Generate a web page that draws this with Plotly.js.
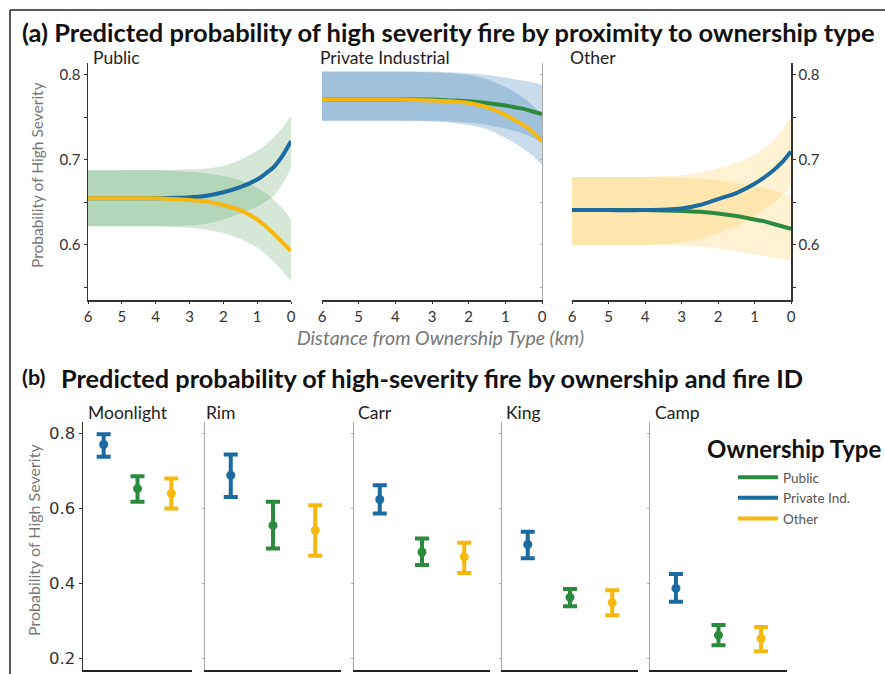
<!DOCTYPE html>
<html>
<head>
<meta charset="utf-8">
<script src="https://cdn.plot.ly/plotly-3.0.1.min.js"></script>
<style>html,body{margin:0;padding:0;background:#fff;}#chart{width:885px;height:674px;}</style>
</head>
<body>
<div id="chart"></div>
<script>
// ---------- Panel (a) data: distance from ownership type (km) ----------
const dist = [6, 5, 4, 3, 2.5, 2, 1.5, 1, 0.75, 0.5, 0.25, 0];

// Public panel
const pubPanelPriv   = [0.655,0.655,0.655,0.656,0.658,0.662,0.668,0.677,0.684,0.692,0.705,0.722];
const pubPanelPrivHi = [0.688,0.688,0.688,0.689,0.690,0.693,0.700,0.711,0.718,0.727,0.738,0.752];
const pubPanelPrivLo = [0.622,0.622,0.622,0.623,0.625,0.630,0.637,0.645,0.651,0.658,0.672,0.690];
const pubPanelOth    = [0.655,0.655,0.655,0.653,0.651,0.647,0.641,0.630,0.622,0.613,0.603,0.593];
const pubPanelOthHi  = [0.688,0.688,0.688,0.686,0.684,0.681,0.676,0.667,0.661,0.653,0.643,0.630];
const pubPanelOthLo  = [0.622,0.622,0.622,0.620,0.618,0.614,0.607,0.597,0.589,0.580,0.569,0.557];

// Private Industrial panel
const privPanelPub   = [0.771,0.771,0.771,0.771,0.770,0.769,0.767,0.764,0.762,0.760,0.757,0.754];
const privPanelPubHi = [0.804,0.804,0.804,0.804,0.803,0.802,0.800,0.797,0.795,0.793,0.791,0.788];
const privPanelPubLo = [0.746,0.746,0.746,0.746,0.745,0.744,0.741,0.737,0.734,0.731,0.726,0.720];
const privPanelOth   = [0.771,0.771,0.771,0.770,0.769,0.767,0.762,0.753,0.747,0.741,0.733,0.722];
const privPanelOthHi = [0.804,0.804,0.804,0.803,0.802,0.800,0.795,0.786,0.780,0.773,0.764,0.752];
const privPanelOthLo = [0.746,0.746,0.746,0.745,0.744,0.741,0.736,0.726,0.720,0.713,0.705,0.694];

// Other panel
const othPanelPriv   = [0.641,0.641,0.641,0.643,0.647,0.654,0.661,0.672,0.679,0.687,0.697,0.710];
const othPanelPrivHi = [0.680,0.680,0.680,0.682,0.685,0.690,0.696,0.706,0.713,0.722,0.734,0.751];
const othPanelPrivLo = [0.600,0.600,0.600,0.603,0.607,0.614,0.622,0.634,0.641,0.649,0.658,0.668];
const othPanelPub    = [0.641,0.641,0.641,0.640,0.639,0.637,0.634,0.630,0.628,0.625,0.622,0.619];
const othPanelPubHi  = [0.680,0.680,0.680,0.679,0.678,0.676,0.673,0.669,0.667,0.664,0.661,0.658];
const othPanelPubLo  = [0.600,0.600,0.600,0.599,0.598,0.596,0.593,0.589,0.587,0.585,0.583,0.582];

// ---------- Panel (b) data ----------
const fires  = ['Moonlight', 'Rim', 'Carr', 'King', 'Camp'];
const owners = ['Private Ind.', 'Public', 'Other'];
const privMean = [0.771, 0.689, 0.624, 0.504, 0.387];
const privLo   = [0.738, 0.631, 0.587, 0.467, 0.351];
const privHi   = [0.798, 0.744, 0.662, 0.538, 0.425];
const pubMean  = [0.653, 0.555, 0.484, 0.363, 0.262];
const pubLo    = [0.618, 0.493, 0.449, 0.339, 0.235];
const pubHi    = [0.686, 0.618, 0.520, 0.385, 0.289];
const othMean  = [0.640, 0.542, 0.471, 0.349, 0.253];
const othLo    = [0.600, 0.474, 0.428, 0.315, 0.219];
const othHi    = [0.680, 0.609, 0.509, 0.382, 0.284];

const yTicksA = [0.55, 0.6, 0.65, 0.7, 0.75, 0.8];
const yTextA  = ['', '0.6', '', '0.7', '', '0.8'];
const yTicksB = [0.2, 0.4, 0.6, 0.8];
const yTextB  = ['0.2', '0.4', '0.6', '0.8'];
const xTicksA = [6, 5, 4, 3, 2, 1, 0];

// ---------- styling ----------
const GREEN = '#2b8a3e', BLUE = '#1b6aa0', YELLOW = '#f6b80f';
const GREEN_F = 'rgba(46,139,58,0.20)', BLUE_F = 'rgba(30,110,170,0.24)', YELLOW_F = 'rgba(250,190,30,0.20)';
const W = 885, H = 674;
const px = v => v / W, py = v => 1 - v / H;

const traces = [];
function band(xa, ya, lo, hi, fill) {
  traces.push({x: dist, y: lo, xaxis: xa, yaxis: ya, mode: 'lines', line: {width: 0, shape: 'spline', smoothing: 0.6},
    showlegend: false, hoverinfo: 'skip'});
  traces.push({x: dist, y: hi, xaxis: xa, yaxis: ya, mode: 'lines', line: {width: 0, shape: 'spline', smoothing: 0.6},
    fill: 'tonexty', fillcolor: fill, showlegend: false, hoverinfo: 'skip'});
}
function line(xa, ya, y, color, name, show, rank) {
  traces.push({x: dist, y: y, xaxis: xa, yaxis: ya, mode: 'lines', name: name, legendgroup: name, legendrank: rank,
    showlegend: show, line: {color: color, width: 4, shape: 'spline', smoothing: 0.6}});
}
// Public panel
band('x', 'y', pubPanelPrivLo, pubPanelPrivHi, GREEN_F);
band('x', 'y', pubPanelOthLo, pubPanelOthHi, GREEN_F);
line('x', 'y', pubPanelPriv, BLUE, 'Private Ind.', true, 2);
line('x', 'y', pubPanelOth, YELLOW, 'Other', true, 3);
// Private panel
band('x2', 'y2', privPanelPubLo, privPanelPubHi, BLUE_F);
band('x2', 'y2', privPanelOthLo, privPanelOthHi, BLUE_F);
line('x2', 'y2', privPanelPub, GREEN, 'Public', true, 1);
line('x2', 'y2', privPanelOth, YELLOW, 'Other', false, 3);
// Other panel
band('x3', 'y3', othPanelPrivLo, othPanelPrivHi, YELLOW_F);
band('x3', 'y3', othPanelPubLo, othPanelPubHi, YELLOW_F);
line('x3', 'y3', othPanelPub, GREEN, 'Public', false, 1);
line('x3', 'y3', othPanelPriv, BLUE, 'Private Ind.', false, 2);

// Panel (b) error bars
const series = [
  {name: owners[0], mean: privMean, lo: privLo, hi: privHi, color: BLUE},
  {name: owners[1], mean: pubMean, lo: pubLo, hi: pubHi, color: GREEN},
  {name: owners[2], mean: othMean, lo: othLo, hi: othHi, color: YELLOW}
];
fires.forEach((f, i) => {
  series.forEach(s => {
    traces.push({
      x: [s.name], y: [s.mean[i]], xaxis: 'x' + (4 + i), yaxis: 'y' + (5 + i),
      mode: 'markers', type: 'scatter', showlegend: false, name: s.name,
      marker: {color: s.color, size: 9},
      error_y: {type: 'data', symmetric: false, array: [s.hi[i] - s.mean[i]], arrayminus: [s.mean[i] - s.lo[i]],
        color: s.color, thickness: 4, width: 7}
    });
  });
});

const FONT = 'Lato, "Open Sans", sans-serif';
const tickFontA = {family: FONT, size: 15, color: '#333'};
const layout = {
  width: W, height: H, margin: {l: 0, r: 0, t: 0, b: 0},
  paper_bgcolor: '#fff', plot_bgcolor: 'rgba(0,0,0,0)',
  font: {family: FONT, color: '#333'},
  showlegend: true,
  legend: {x: px(733), y: py(462), xanchor: 'left', yanchor: 'top', bgcolor: 'rgba(0,0,0,0)',
    font: {family: FONT, size: 13.5, color: '#555'}, itemwidth: 40, tracegroupgap: 0, traceorder: 'normal'},
  annotations: [],
  shapes: [
    {type: 'line', xref: 'paper', yref: 'paper', x0: px(10), x1: 1.01, y0: py(10), y1: py(10), line: {color: '#222', width: 1.5}},
    {type: 'line', xref: 'paper', yref: 'paper', x0: px(10), x1: px(10), y0: py(10), y1: -0.01, line: {color: '#222', width: 1.5}}
  ]
};

const rangeA = [0.5353, 0.814];
const xDomA = [[88, 291], [322, 542], [572, 791]];
const yDomA = [py(300), py(63)];
xDomA.forEach((d, i) => {
  layout['xaxis' + (i === 0 ? '' : i + 1)] = {
    domain: [px(d[0]), px(d[1])], range: [6, 0], anchor: i === 0 ? 'y' : 'y' + (i + 1),
    showline: true, linecolor: '#333', linewidth: 1.5, ticks: 'outside', ticklen: 2, tickcolor: '#333', tickwidth: 1,
    tickvals: xTicksA, tickfont: tickFontA, showgrid: false, zeroline: false, fixedrange: true
  };
});
layout.yaxis = {domain: yDomA, range: rangeA, anchor: 'x', side: 'left', showline: true, linecolor: '#333', linewidth: 1.5,
  ticks: 'outside', ticklen: 3, tickcolor: '#333', tickvals: yTicksA, ticktext: yTextA, tickfont: tickFontA,
  showgrid: false, zeroline: false};
layout.yaxis2 = {domain: yDomA, range: rangeA, anchor: 'x2', side: 'right', showline: true, linecolor: '#aaa', linewidth: 1.2,
  ticks: 'inside', ticklen: 2, tickcolor: '#aaa', tickvals: yTicksA, showticklabels: false, showgrid: false, zeroline: false};
layout.yaxis3 = {domain: yDomA, range: rangeA, anchor: 'x3', side: 'right', showline: true, linecolor: '#333', linewidth: 1.5,
  ticks: 'outside', ticklen: 3, tickcolor: '#333', tickvals: yTicksA, ticktext: yTextA, tickfont: tickFontA,
  showgrid: false, zeroline: false};
layout.yaxis4 = {overlaying: 'y', range: rangeA, anchor: 'x', side: 'right', showline: true, linecolor: '#aaa', linewidth: 1.2,
  ticks: 'inside', ticklen: 2, tickcolor: '#aaa', tickvals: yTicksA, showticklabels: false, showgrid: false, zeroline: false};

const rangeB = [0.169, 0.831];
const xDomB = [[83, 192], [205, 341], [354, 490], [502, 638], [650, 787]];
const yDomB = [py(670), py(422)];
xDomB.forEach((d, i) => {
  layout['xaxis' + (4 + i)] = {
    domain: [px(d[0]), px(d[1])], type: 'category', categoryorder: 'array', categoryarray: owners,
    range: [-0.61, 2.61], anchor: 'y' + (5 + i), showline: true, linecolor: '#222', linewidth: 2,
    ticks: '', showticklabels: false, showgrid: false, zeroline: false
  };
  const first = i === 0;
  layout['yaxis' + (5 + i)] = {
    domain: yDomB, range: rangeB, anchor: 'x' + (4 + i), side: 'left', showline: true,
    linecolor: first ? '#333' : '#aaa', linewidth: 1.5,
    ticks: 'outside', ticklen: first ? 3 : 2, tickcolor: first ? '#333' : '#aaa',
    tickvals: yTicksB, ticktext: yTextB, showticklabels: first,
    tickfont: {family: '"DejaVu Sans", sans-serif', size: 16.5, color: '#333'},
    showgrid: false, zeroline: false
  };
});

function ann(text, x, y, opts) {
  layout.annotations.push(Object.assign({text: text, x: px(x), y: py(y), xref: 'paper', yref: 'paper',
    showarrow: false, xanchor: 'left', yanchor: 'middle'}, opts || {}));
}
ann('<b>(a) Predicted probability of high severity fire by proximity to ownership type</b>', 20, 32,
  {font: {family: FONT, size: 25.5, color: '#111'}});
ann('<b>(b)</b>', 20, 377, {font: {family: FONT, size: 21.5, color: '#111'}});
ann('<b>Predicted probability of high-severity fire by ownership and fire ID</b>', 59, 378,
  {font: {family: FONT, size: 25.3, color: '#111'}});
const panelFont = {family: FONT, size: 17.5, color: '#222'};
ann('Public', 91, 58, {font: panelFont});
ann('Private Industrial', 318, 58, {font: panelFont});
ann('Other', 568, 58, {font: panelFont});
const fireX = [86, 204, 356, 504, 653];
fires.forEach((f, i) => ann(f, fireX[i], 412, {font: panelFont}));
ann('<i>Distance from Ownership Type (km)</i>', 440, 337, {xanchor: 'center', font: {family: FONT, size: 19.5, color: '#777'}});
ann('Probability of High Severity', 37, 175, {xanchor: 'center', textangle: -90, font: {family: FONT, size: 15.5, color: '#777'}});
ann('Probability of High Severity', 33, 540, {xanchor: 'center', textangle: -90, font: {family: FONT, size: 16, color: '#777'}});
ann('<b>Ownership Type</b>', 794, 448, {xanchor: 'center', font: {family: FONT, size: 24, color: '#111'}});

Plotly.newPlot('chart', traces, layout, {displayModeBar: false, staticPlot: true});
</script>
</body>
</html>
